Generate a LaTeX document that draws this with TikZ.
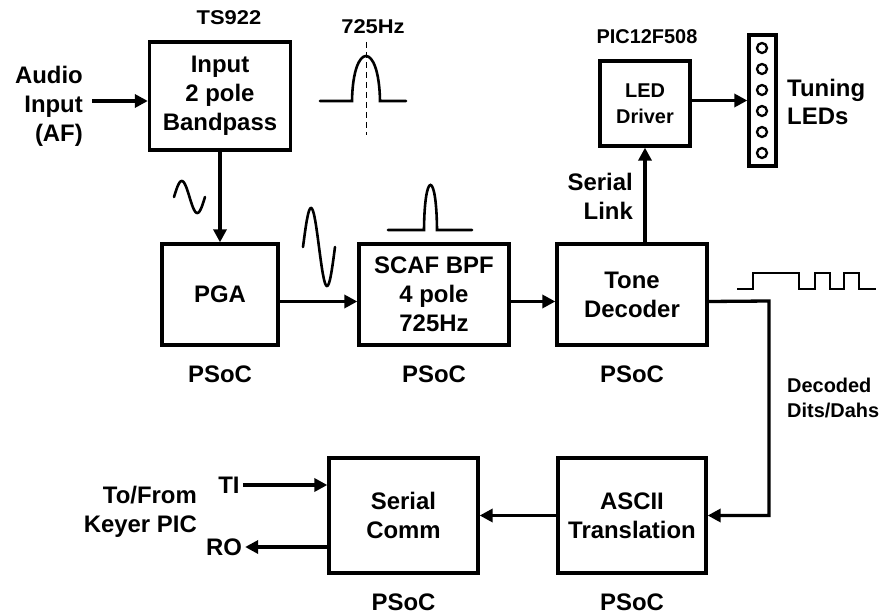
\documentclass[tikz,border=0pt]{standalone}
\usepackage{fontspec}
\setmainfont{Liberation Sans}
\newfontfamily\widesans[FakeStretch=1.1]{Liberation Sans}
\usetikzlibrary{arrows.meta,calc}

\newcommand\bigtxt{\fontsize{24}{29}\selectfont\bfseries}
\newcommand\smalltxt{\fontsize{20}{26}\selectfont\bfseries}
\newcommand\widetxt{\widesans\fontsize{20}{26}\selectfont\bfseries}

\begin{document}
\begin{tikzpicture}[x=1bp, y=-1bp, line join=miter,
  block/.style={draw, line width=3.3bp, inner sep=0pt, align=center, font=\bigtxt},
  biglbl/.style={font=\bigtxt, inner sep=3bp},
  lbl/.style={font=\smalltxt, inner sep=3bp},
  arr/.style={line width=3.3bp, -{Triangle[length=13bp,width=13bp]}},
  wave/.style={line width=2.6bp, line cap=round}]
  \useasboundingbox (0,0) rectangle (881,616);

  % The signal path, top row.
  \node[block, minimum width=141bp, minimum height=108bp] (inbpf) at (220,96) {Input\\2 pole\\Bandpass};
  \node[block, minimum width=116bp, minimum height=101bp] (pga) at (220,294.5) {PGA};
  \node[block, minimum width=150bp, minimum height=101bp] (scaf) at (434,294.5) {SCAF BPF\\4 pole\\725Hz};
  \node[block, minimum width=150bp, minimum height=101bp] (tone) at (632,294.5) {Tone\\Decoder};
  \node[block, font=\smalltxt, minimum width=90bp, minimum height=85bp] (leddrv) at (645,103.5) {LED\\Driver};
  \node[draw, line width=3.3bp, inner sep=0pt, minimum width=27bp, minimum height=131bp] (ledbar) at (762.5,100.5) {};
  % The bottom row.
  \node[block, minimum width=149bp, minimum height=115bp] (sercomm) at (403.5,515.5) {Serial\\Comm};
  \node[block, minimum width=148bp, minimum height=115bp] (ascii) at (632,515.5) {ASCII\\Translation};

  % Labels.
  \node[lbl, font=\widetxt] (ts922) at (229,18) {TS922};
  \node[lbl, font=\widetxt] (hz) at (373,27) {725Hz};
  \node[lbl] (pic) at (647,37) {PIC12F508};
  \node[biglbl, align=right, anchor=east] (audio) at (86,106) {Audio\\Input\\(AF)};
  \node[biglbl, align=right, anchor=east] (link) at (636,196) {Serial\\Link};
  \node[biglbl, align=left, anchor=west] (tuning) at (784,102) {Tuning\\LEDs};
  \node[lbl, align=left, anchor=west] (dd) at (784,398) {Decoded\\Dits/Dahs};
  \node[biglbl] (ti) at (229,485) {TI};
  \node[biglbl] (ro) at (224,547) {RO};
  \node[biglbl, align=right, anchor=east] (keyer) at (200,512) {To/From\\Keyer PIC};
  \foreach \blk in {pga,scaf,tone,sercomm,ascii}
    \node[biglbl] (\blk-chip) at ($(\blk.south)+(0,28)$) {PSoC};

  % Connectors.
  \coordinate (afin) at (92,101);
  \draw[arr] (afin) -- (afin -| inbpf.west);
  \draw[arr] (inbpf.south) -- (pga.north);
  \draw[arr] ([yshift=-7bp]pga.east) -- ([yshift=-7bp]scaf.west);
  \draw[arr] ([yshift=-7bp]scaf.east) -- ([yshift=-7bp]tone.west);
  \draw[arr] (leddrv.south |- tone.north) -- (leddrv.south);
  \draw[arr] (leddrv.east |- ledbar.west) -- (ledbar.west);
  \coordinate (ddbend) at (769,301);
  \draw[arr] ([yshift=-7bp]tone.east) -- (ddbend) |- (ascii.east);
  \draw[arr] (ascii.west) -- (sercomm.east);
  \draw[arr] (ti.east) -- (ti.east -| sercomm.west);
  \draw[arr] (ro.east -| sercomm.west) -- (ro.east);

  % The LEDs in the bar.
  \foreach \k in {0,...,5}
    \draw[line width=2.3bp] (762,{48+21*\k}) circle[radius=5bp];

  % Waveform sketches.
  \draw[wave] plot[domain=0:360, samples=60] ({174+\x/360*31}, {197-16*sin(\x)});
  \draw[wave] plot[domain=0:360, samples=60] ({303+\x/360*32}, {247-39*sin(\x)});
  \draw[wave] (320,101) -- (352,101) .. controls (353,41) and (379,41) .. (380,101) -- (406,101);
  \draw[line width=1bp, dash pattern=on 6bp off 4bp] (366,42) -- (366,135);
  \draw[wave] (388,230) -- (424,230) .. controls (424.5,170) and (436.5,170) .. (437,230) -- (472,230);
  \draw[line width=2bp] (737,289) -- (753,289) -- (753,273) -- (799,273) -- (799,289) -- (815,289)
    -- (815,273) -- (830,273) -- (830,289) -- (844,289) -- (844,273) -- (859,273) -- (859,289) -- (876,289);
\end{tikzpicture}
\end{document}
